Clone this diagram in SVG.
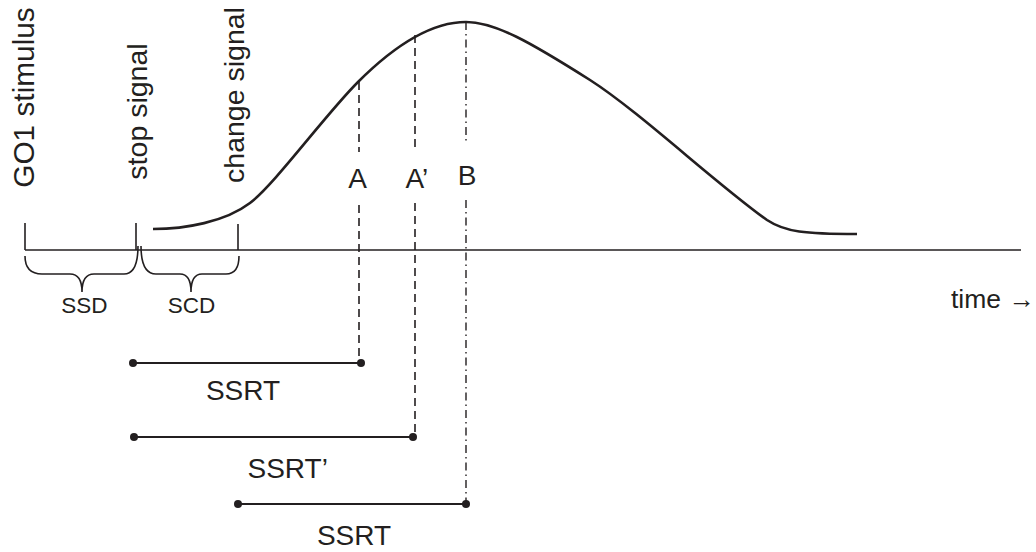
<svg xmlns="http://www.w3.org/2000/svg" width="1036" height="552" viewBox="0 0 1036 552">
  <style>
    text { font-family: "Liberation Sans", Arial, sans-serif; fill: #231f20; }
    .big { font-size: 28px; }
    .rot { font-size: 28.5px; }
    .small { font-size: 22.5px; }
    .axis { stroke: #231f20; stroke-width: 1.6; fill: none; }
    .curve { stroke: #231f20; stroke-width: 2.6; fill: none; stroke-linecap: butt; }
    .dash { stroke: #231f20; stroke-width: 1.6; fill: none; stroke-dasharray: 8 5; }
    .dashdot { stroke: #231f20; stroke-width: 1.4; fill: none; stroke-dasharray: 8 4 1.5 4; }
    .seg { stroke: #231f20; stroke-width: 2.2; fill: none; }
    .dot { fill: #231f20; }
  </style>
  <rect width="1036" height="552" fill="#ffffff"/>

  <g id="connectors">
    <!-- time axis -->
    <line class="axis" x1="25" y1="250" x2="1021" y2="250"/>
    <!-- ticks -->
    <line class="axis" x1="25" y1="223" x2="25" y2="250"/>
    <line class="axis" x1="136" y1="223" x2="136" y2="250"/>
    <line class="axis" x1="238" y1="224" x2="238" y2="250"/>
    <!-- braces -->
    <path class="axis" d="M25,256 Q25,274 42,274 L70,274 Q82,274 82,292 Q82,274 94,274 L124,274 Q138,274 138,246"/>
    <path class="axis" d="M141,246 Q141,274 156,274 L180,274 Q191,274 191,292 Q191,274 202,274 L226,274 Q239,274 239,256"/>
    <!-- response curve -->
    <path class="curve" d="M153,229 C185,229 225,222 250,203 C275,184 325,115 358,82 C385,55 425,22 466,22 C495,22 530,42 590,80 C640,112 715,183 767,220 C785,232 805,234 857,234"/>
    <!-- A dashed -->
    <line class="dash" x1="359" y1="82" x2="359" y2="152"/>
    <line class="dash" x1="359" y1="205" x2="359" y2="362"/>
    <!-- A' dashed -->
    <line class="dash" x1="415" y1="35" x2="415" y2="152"/>
    <line class="dash" x1="415" y1="203" x2="415" y2="437"/>
    <!-- B dash-dot -->
    <line class="dashdot" x1="466" y1="22" x2="466" y2="143"/>
    <line class="dashdot" x1="466" y1="200" x2="466" y2="504"/>
    <!-- SSRT intervals -->
    <line class="seg" x1="133" y1="363" x2="361" y2="363"/>
    <circle class="dot" cx="133" cy="363" r="4"/>
    <circle class="dot" cx="361" cy="363" r="4"/>
    <line class="seg" x1="134" y1="437" x2="413" y2="437"/>
    <circle class="dot" cx="134" cy="437" r="4"/>
    <circle class="dot" cx="413" cy="437" r="4"/>
    <line class="seg" x1="238" y1="504" x2="466" y2="504"/>
    <circle class="dot" cx="238" cy="504" r="4"/>
    <circle class="dot" cx="466" cy="504" r="4"/>
  </g>

  <g id="go1-stimulus">
    <text class="rot" text-anchor="middle" transform="translate(34,97.5) rotate(-90)" style="font-size:29.8px">GO1 stimulus</text>
  </g>
  <g id="stop-signal">
    <text class="rot" text-anchor="middle" transform="translate(146.5,111.5) rotate(-90)">stop signal</text>
  </g>
  <g id="change-signal">
    <text class="rot" text-anchor="middle" transform="translate(244,95) rotate(-90)">change signal</text>
  </g>

  <g id="label-A"><text class="big" x="357.5" y="188" text-anchor="middle">A</text></g>
  <g id="label-A-prime"><text class="big" x="405.5" y="188">A’</text></g>
  <g id="label-B"><text class="big" x="467" y="185" text-anchor="middle">B</text></g>

  <g id="label-SSD"><text class="small" x="84.5" y="313" text-anchor="middle">SSD</text></g>
  <g id="label-SCD"><text class="small" x="191.5" y="313" text-anchor="middle">SCD</text></g>

  <g id="label-time"><text x="951" y="308" style="font-size:26.5px">time →</text></g>

  <g id="label-SSRT1"><text class="big" x="243" y="400" text-anchor="middle">SSRT</text></g>
  <g id="label-SSRT2"><text class="big" x="247.5" y="478">SSRT’</text></g>
  <g id="label-SSRT3"><text class="big" x="354" y="545" text-anchor="middle">SSRT</text></g>
</svg>
